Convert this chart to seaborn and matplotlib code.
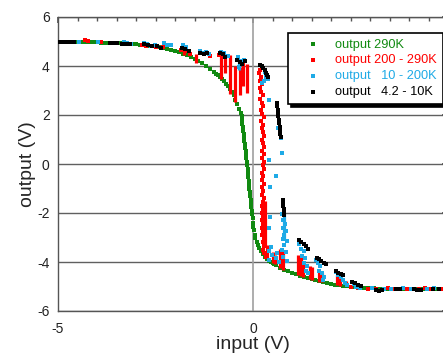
import matplotlib
matplotlib.use("Agg")
import matplotlib.pyplot as plt
import seaborn as sns
from matplotlib.ticker import MultipleLocator

# ----------------------------
# DATA
# ----------------------------

# output 290K : smooth transfer curve
green_x = [
    -5.0, -4.9, -4.8, -4.7, -4.6, -4.5, -4.4, -4.3, -4.2, -4.1,
    -4.0, -3.9, -3.8, -3.7, -3.6, -3.5, -3.4, -3.3, -3.2, -3.1,
    -3.0, -2.9, -2.8, -2.7, -2.6, -2.5, -2.4, -2.3, -2.2, -2.1,
    -2.0, -1.9, -1.8, -1.7, -1.6, -1.5, -1.4, -1.3, -1.2, -1.1,
    -1.0, -0.95, -0.9, -0.85, -0.8, -0.75, -0.7, -0.65, -0.6, -0.55,
    -0.5, -0.45, -0.4, -0.35,
    -0.31, -0.29, -0.28, -0.27, -0.26, -0.25, -0.24, -0.23, -0.22, -0.21,
    -0.20, -0.19, -0.18, -0.17, -0.16, -0.15, -0.14, -0.13, -0.12, -0.11,
    -0.10, -0.09, -0.08, -0.07, -0.06, -0.05, -0.04, -0.03, -0.02, -0.01,
    0.0, 0.01, 0.02, 0.04, 0.06, 0.09, 0.12, 0.16, 0.20, 0.25,
    0.30, 0.35, 0.40, 0.45, 0.50, 0.55, 0.60,
    0.7, 0.8, 0.9, 1.0, 1.1, 1.2, 1.3, 1.4, 1.5, 1.6,
    1.7, 1.8, 1.9, 2.0, 2.1, 2.2, 2.3, 2.4, 2.5, 2.6,
    2.7, 2.8, 2.9, 3.0, 3.1, 3.2, 3.3, 3.4, 3.5, 3.6,
    3.7, 3.8, 3.9, 4.0, 4.1, 4.2, 4.3, 4.4, 4.5, 4.6,
    4.7, 4.8, 4.9, 5.0,
]
green_y = [
    4.97, 4.97, 4.97, 4.97, 4.97, 4.97, 4.97, 4.96, 4.96, 4.96,
    4.96, 4.95, 4.95, 4.94, 4.94, 4.93, 4.92, 4.91, 4.90, 4.89,
    4.88, 4.86, 4.85, 4.83, 4.81, 4.78, 4.76, 4.73, 4.69, 4.65,
    4.61, 4.56, 4.51, 4.45, 4.38, 4.30, 4.21, 4.11, 4.00, 3.89,
    3.76, 3.69, 3.62, 3.54, 3.46, 3.37, 3.28, 3.17, 3.06, 2.94,
    2.80, 2.62, 2.44, 2.26,
    2.10, 1.95, 1.80, 1.65, 1.50, 1.36, 1.22, 1.08, 0.94, 0.80,
    0.66, 0.52, 0.38, 0.24, 0.10, -0.05, -0.20, -0.36, -0.52, -0.68,
    -0.84, -1.00, -1.15, -1.30, -1.45, -1.60, -1.75, -1.90, -2.05, -2.22,
    -2.40, -2.56, -2.70, -2.88, -3.02, -3.17, -3.30, -3.43, -3.55, -3.68,
    -3.78, -3.87, -3.94, -4.00, -4.05, -4.10, -4.14,
    -4.23, -4.31, -4.38, -4.44, -4.50, -4.56, -4.61, -4.66, -4.71, -4.75,
    -4.79, -4.83, -4.86, -4.89, -4.92, -4.95, -4.97, -4.99, -5.01, -5.03,
    -5.04, -5.05, -5.06, -5.07, -5.08, -5.09, -5.10, -5.10, -5.10, -5.10,
    -5.10, -5.10, -5.10, -5.10, -5.10, -5.10, -5.10, -5.10, -5.10, -5.10,
    -5.10, -5.10, -5.10, -5.10,
]

# output 200 - 290K : scattered points + vertical drops
red_x = [
    -4.95, -4.85, -4.62, -4.30, -4.22, -3.90, -3.50, -3.30, -2.85, -2.75,
    -2.62, -2.48, -2.32, -1.85, -1.75, -1.62, -1.10, -0.88,
    0.18, 0.16, 0.20, 0.17, 0.22, 0.18, 0.21, 0.25, 0.19, 0.23,
    0.26, 0.20, 0.24, 0.27, 0.21, 0.25, 0.22, 0.26, 0.28, 0.23,
    0.26, 0.29, 0.24, 0.27, 0.23, 0.28, 0.25, 0.27, 0.24, 0.26,
    0.23, 0.27, 0.24, 0.26, 0.24, 0.27, 0.25, 0.23, 0.26, 0.24,
    0.26, 0.24, 0.25, 0.23, 0.26, 0.24, 0.27, 0.25, 0.27, 0.26,
    0.29, 0.33,
    2.50, 2.70, 2.95, 3.15, 3.45, 3.60, 3.95, 4.25, 4.40, 4.55, 4.85,
]
red_y = [
    5.00, 5.00, 5.00, 5.05, 5.03, 4.97, 4.94, 4.92, 4.86, 4.83,
    4.80, 4.78, 4.76, 4.64, 4.60, 4.50, 4.40, 4.45,
    3.85, 3.70, 3.55, 3.40, 3.25, 3.10, 2.95, 2.80, 2.65, 2.50,
    2.35, 2.20, 2.05, 1.90, 1.75, 1.60, 1.45, 1.30, 1.15, 1.00,
    0.85, 0.70, 0.55, 0.40, 0.25, 0.10, -0.05, -0.20, -0.35, -0.50,
    -0.65, -0.80, -0.95, -1.10, -1.25, -1.40, -1.55, -1.70, -1.85, -2.00,
    -2.15, -2.30, -2.45, -2.60, -2.75, -2.90, -3.05, -3.20, -3.35, -3.50,
    -3.65, -3.80,
    -5.02, -5.07, -5.10, -5.12, -5.08, -5.10, -5.10, -5.12, -5.08, -5.10, -5.10,
]
red_spike_x = [-1.78, -1.47, -0.82, -0.72, -0.59, -0.47, -0.33, -0.25, -0.16,
               0.30, 0.36, 0.50, 0.56, 0.70, 0.78, 1.15, 1.22, 1.27, 1.45,
               1.51, 1.70, 1.78, 2.15, 2.24, 2.38]
red_spike_top = [4.62, 4.50, 4.50, 4.40, 4.45, 4.00, 3.95, 4.20, 4.10,
                 -1.50, -3.30, -3.60, -3.70, -3.45, -3.50, -3.70, -3.80, -4.05, -4.15,
                 -4.20, -4.35, -4.45, -4.55, -4.62, -4.78]
red_spike_bot = [4.45, 4.12, 3.45, 3.70, 2.85, 2.55, 2.80, 3.20, 2.90,
                 -3.40, -3.85, -4.05, -4.10, -4.25, -4.32, -4.52, -4.56, -4.60, -4.70,
                 -4.72, -4.80, -4.83, -4.94, -4.96, -4.99]

# output 10 - 200K
blue_x = [
    -4.88, -4.45, -3.98, -3.30, -3.22, -3.12, -2.80, -2.72, -2.62, -2.52,
    -2.28, -2.20, -2.10, -1.80, -1.72, -1.35, -1.28, -1.20, -1.12, -0.82,
    -0.75, -0.65, -0.38, -0.30, -0.22, -0.35,
    0.25, 0.30, 0.34, 0.38, 0.28, 0.24, 0.40, 0.64, 0.68, 0.72,
    0.75, 0.42, 0.59, 0.44, 0.44, 0.42, 0.45, 0.40, 0.48, 0.40,
    0.62, 0.60, 0.66,
    0.74, 0.78, 0.82, 0.76, 0.84, 0.80, 0.76, 0.86, 0.80, 0.74,
    0.84, 0.78, 0.86,
    1.18, 1.22, 1.30, 1.26, 1.34, 1.30, 1.38, 1.36, 1.40,
    1.62, 1.66, 1.72, 1.70, 1.78, 1.82, 1.80,
    2.12, 2.18, 2.25, 2.30, 2.36, 2.40, 2.60, 2.65, 2.75,
    3.05, 3.35, 3.55, 3.85, 4.05, 4.45, 4.65, 4.95,
]
blue_y = [
    4.98, 4.98, 4.97, 4.98, 4.93, 4.90, 4.95, 4.90, 4.82, 4.85,
    4.92, 4.87, 4.85, 4.85, 4.78, 4.62, 4.55, 4.58, 4.50, 4.58,
    4.55, 4.40, 4.35, 4.20, 4.25, 3.95,
    3.92, 3.75, 3.55, 3.48, 3.40, 3.30, 2.62, 1.48, 1.30, 1.08,
    0.45, 0.16, -0.50, -0.93, -2.15, -2.62, -3.40, -3.55, -3.70, -3.90,
    -3.65, -3.85, -4.00,
    -2.05, -2.30, -2.45, -2.60, -2.75, -2.90, -3.05, -3.15, -3.30, -3.50,
    -3.60, -3.80, -3.95,
    -3.25, -3.45, -3.55, -3.75, -3.85, -4.05, -4.15, -4.35, -4.45,
    -3.90, -4.05, -4.15, -4.35, -4.45, -4.62, -4.75,
    -4.40, -4.55, -4.62, -4.75, -4.85, -4.95, -4.90, -5.00, -5.05,
    -5.08, -5.12, -5.10, -5.08, -5.10, -5.10, -5.08, -5.10,
]
blue_spike_x = [0.80, -0.36]
blue_spike_top = [-2.00, 4.30]
blue_spike_bot = [-3.10, 3.85]

# output 4.2 - 10K
black_x = [
    -4.95, -4.88, -4.80, -4.70, -4.58, -3.67, -3.58, -3.50, -3.35, -3.25,
    -3.15, -2.80, -2.70, -2.60, -2.45, -2.35, -1.82, -1.75, -1.65, -1.35,
    -1.25, -1.17, -0.84, -0.78, -0.72, -0.40, -0.34, -0.27, -0.20,
    0.19, 0.22, 0.26, 0.30, 0.33, 0.36, 0.38,
    0.61, 0.62, 0.63, 0.64, 0.65, 0.66, 0.67, 0.68, 0.69, 0.70, 0.71,
    0.78, 0.78, 0.78, 0.785, 0.79, 0.79,
    1.18, 1.24, 1.30, 1.36, 1.42,
    1.63, 1.69, 1.75, 1.81, 1.86,
    2.12, 2.18, 2.25, 2.32,
    2.55, 2.62, 2.70, 2.78,
    3.15, 3.22, 3.32, 3.66, 3.78, 4.12, 4.20, 4.30, 4.62, 4.76,
]
black_y = [
    4.98, 4.98, 4.98, 4.97, 4.97, 4.95, 4.94, 4.93, 4.90, 4.90,
    4.88, 4.88, 4.85, 4.82, 4.80, 4.75, 4.72, 4.68, 4.62, 4.55,
    4.48, 4.52, 4.55, 4.48, 4.38, 4.25, 4.15, 4.10, 4.22,
    4.05, 4.00, 3.92, 3.82, 3.72, 3.62, 3.55,
    2.50, 2.36, 2.22, 2.08, 1.94, 1.80, 1.66, 1.52, 1.38, 1.24, 1.10,
    -1.45, -1.58, -1.71, -1.84, -1.97, -2.10,
    -3.10, -3.18, -3.28, -3.36, -3.45,
    -3.85, -3.88, -3.95, -4.03, -4.10,
    -4.38, -4.44, -4.50, -4.55,
    -4.80, -4.86, -4.93, -4.98,
    -5.15, -5.18, -5.15, -5.10, -5.10, -5.12, -5.16, -5.14, -5.10, -5.10,
]

labels = ["output 290K", "output 200 - 290K", "output   10 - 200K", "output   4.2 - 10K"]
colors = ["#118a11", "#ff0000", "#1eaae6", "#000000"]

# ----------------------------
# PLOT
# ----------------------------

sns.set_theme(style="white")
plt.rcParams["font.family"] = ["Liberation Sans", "DejaVu Sans"]
plt.rcParams["axes.unicode_minus"] = False

fig = plt.figure(figsize=(4.43, 3.55), dpi=100)
ax = fig.add_axes([58 / 443, 44 / 355, 390 / 443, 294 / 355])

sns.scatterplot(x=green_x, y=green_y, color=colors[0], marker="s", s=10,
                linewidth=0, label=labels[0], ax=ax, zorder=3)
ax.vlines(red_spike_x, red_spike_bot, red_spike_top, color=colors[1],
          linewidth=2.3, zorder=4)
sns.scatterplot(x=red_x, y=red_y, color=colors[1], marker="s", s=8,
                linewidth=0, label=labels[1], ax=ax, zorder=4)
ax.vlines(blue_spike_x, blue_spike_bot, blue_spike_top, color=colors[2],
          linewidth=2.3, zorder=5)
sns.scatterplot(x=blue_x, y=blue_y, color=colors[2], marker="s", s=8,
                linewidth=0, label=labels[2], ax=ax, zorder=5)
sns.scatterplot(x=black_x, y=black_y, color=colors[3], marker="s", s=12,
                linewidth=0, label=labels[3], ax=ax, zorder=6)

ax.set_xlim(-5, 5)
ax.set_ylim(-6, 6)
ax.set_xticks([-5, 0, 5])
ax.set_xticklabels(["-5", "0", ""])
ax.yaxis.set_major_locator(MultipleLocator(2))
ax.xaxis.set_minor_locator(MultipleLocator(0.5))
ax.yaxis.set_minor_locator(MultipleLocator(0.5))
ax.tick_params(which="both", direction="in", top=True, right=True,
               color="#555555", labelsize=10, labelcolor="#222222")
ax.tick_params(which="major", length=4)
ax.tick_params(which="minor", length=3)
ax.tick_params(axis="x", pad=8)
ax.tick_params(axis="y", pad=6)

ax.grid(True, axis="y", color="#606060", linewidth=1)
ax.axvline(0, color="#a0a0a0", linewidth=1.2, zorder=1)
ax.set_axisbelow(True)
for sp in ax.spines.values():
    sp.set_color("#555555")
    sp.set_linewidth(1)

ax.set_xlabel("input (V)", fontsize=14, labelpad=0)
ax.set_ylabel("output (V)", fontsize=14, labelpad=1)

leg = ax.legend(loc="upper left", bbox_to_anchor=(0.59, 0.946), borderaxespad=0,
                fontsize=9.2, labelcolor=colors, frameon=True, fancybox=False,
                framealpha=1, edgecolor="black", handlelength=3.0,
                handletextpad=0.25, labelspacing=0.3, borderpad=0.45,
                markerscale=0.8, shadow={"color": "black", "alpha": 1})
leg.get_frame().set_linewidth(1.2)

plt.savefig("out.png", dpi=100)
